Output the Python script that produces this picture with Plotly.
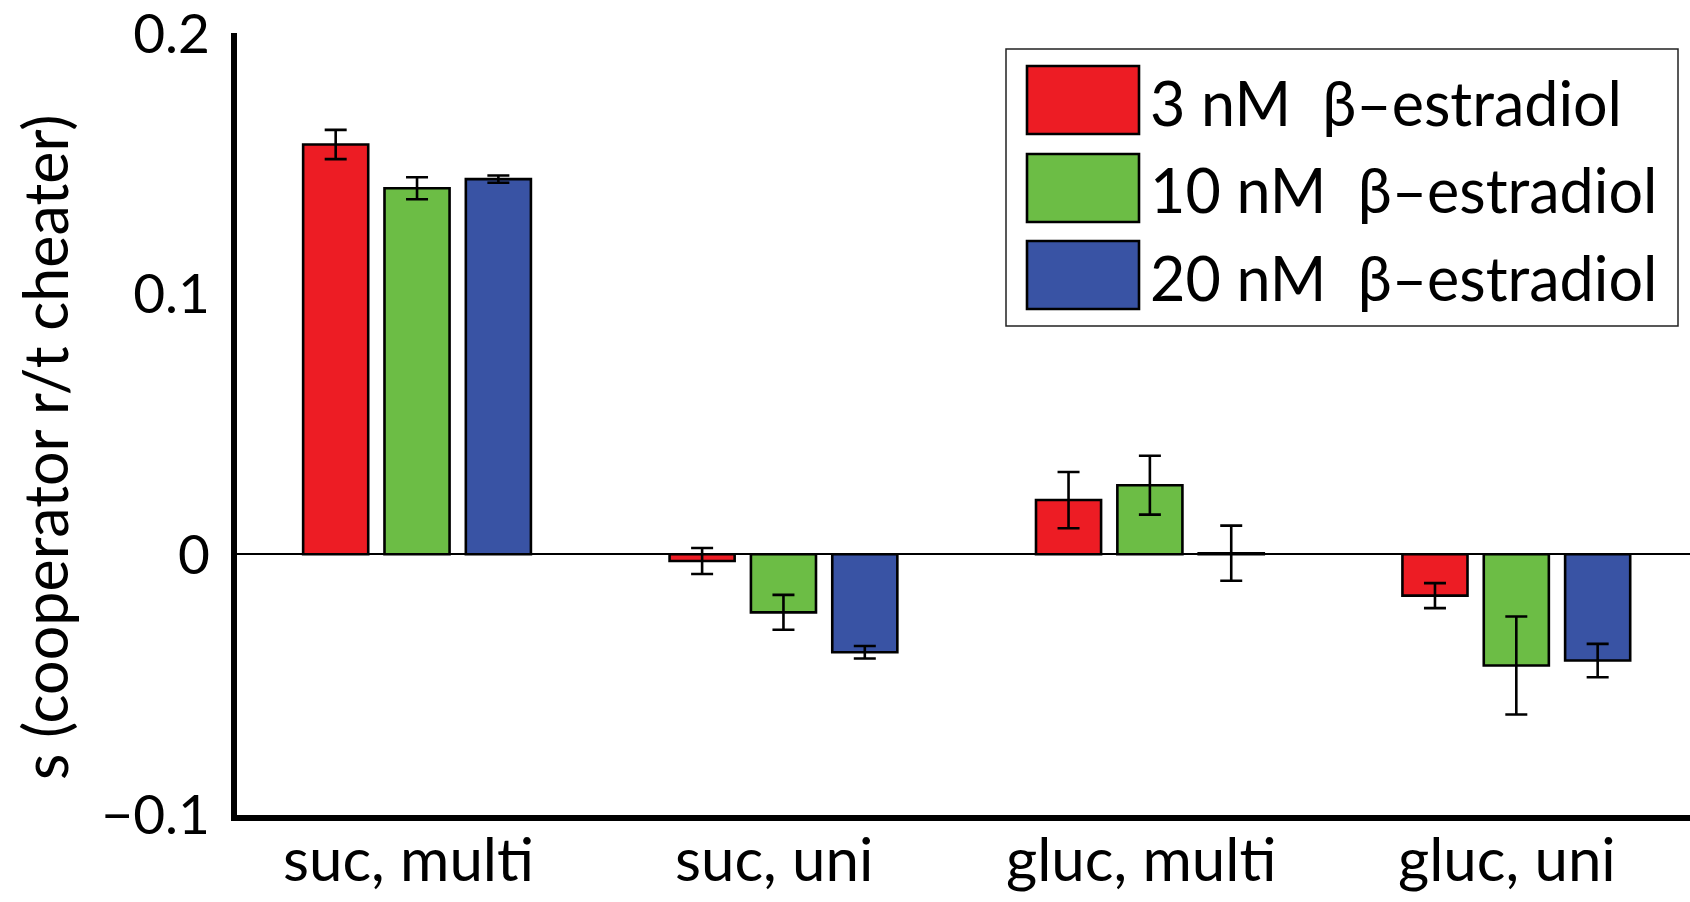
import plotly.graph_objects as go

categories = ["suc, multi", "suc, uni", "gluc, multi", "gluc, uni"]
series_names = ["3 nM  β–estradiol", "10 nM  β–estradiol", "20 nM  β–estradiol"]
s_3nM = [0.1573, -0.0026, 0.0208, -0.0159]
err_3nM = [0.0056, 0.0050, 0.0108, 0.0048]
s_10nM = [0.1405, -0.0223, 0.0265, -0.0427]
err_10nM = [0.0042, 0.0067, 0.0113, 0.0188]
s_20nM = [0.1440, -0.0376, 0.0004, -0.0408]
err_20nM = [0.0014, 0.0024, 0.0106, 0.0064]
colors = ["#ED1C24", "#6CBD45", "#3953A4"]
y_ticks = [-0.1, 0, 0.1, 0.2]
y_ticktext = ["\u22120.1", "0", "0.1", "0.2"]
y_title = "s (cooperator r/t cheater)"

FONT = "Lato"
W, H = 1690, 902
ML, MR, MT, MB = 237, 0, 33, 87
PW, PH = W - ML - MR, H - MT - MB


def px2x(px):
    return (px - ML) / PW


def px2y(py):
    return (H - MB - py) / PH


fig = go.Figure()
for name, vals, errs, col in zip(series_names, [s_3nM, s_10nM, s_20nM],
                                 [err_3nM, err_10nM, err_20nM], colors):
    fig.add_trace(go.Bar(
        x=categories, y=vals, name=name,
        marker=dict(color=col, line=dict(color="black", width=2.6)),
        error_y=dict(type="data", array=errs, visible=True, color="black",
                     thickness=2.6, width=11),
        showlegend=False,
    ))

# x category labels
for c in categories:
    fig.add_annotation(xref="x", yref="paper", x=c, y=px2y(858), xshift=-9,
                       text=c, showarrow=False, xanchor="center", yanchor="middle",
                       font=dict(family=FONT, size=60, color="black"))

# manual legend (large swatches)
fig.add_shape(type="rect", xref="paper", yref="paper",
              x0=px2x(1006), x1=px2x(1678), y0=px2y(326), y1=px2y(49),
              line=dict(color="#222", width=1.5), fillcolor="white", layer="above")
sw_tops = [66, 154, 241]
for i, (name, col) in enumerate(zip(series_names, colors)):
    t = sw_tops[i]
    fig.add_shape(type="rect", xref="paper", yref="paper",
                  x0=px2x(1027), x1=px2x(1139), y0=px2y(t + 68), y1=px2y(t),
                  line=dict(color="black", width=2.6), fillcolor=col, layer="above")
    fig.add_annotation(xref="paper", yref="paper", x=px2x(1148), y=px2y(t + 36),
                       text=name.replace("  ", "&nbsp; "), showarrow=False,
                       xanchor="left", yanchor="middle",
                       font=dict(family=FONT, size=61, color="black"))

fig.add_annotation(xref="paper", yref="paper", x=px2x(44), y=px2y(447),
                   text=y_title, textangle=-90, showarrow=False,
                   xanchor="center", yanchor="middle",
                   font=dict(family=FONT, size=61, color="black"))

fig.update_layout(
    width=W, height=H,
    margin=dict(l=ML, r=MR, t=MT, b=MB, pad=0),
    plot_bgcolor="white", paper_bgcolor="white",
    barmode="group", bargap=0.334, bargroupgap=0.2,
    font=dict(family=FONT, color="black"),
)
fig.update_xaxes(
    range=[-0.4913, 3.474], showgrid=False, zeroline=False,
    showline=True, linecolor="black", linewidth=6,
    ticks="", showticklabels=False,
)
fig.update_yaxes(
    range=[-0.1001, 0.2001], showgrid=False,
    zeroline=True, zerolinecolor="black", zerolinewidth=1.5,
    showline=True, linecolor="black", linewidth=6,
    tickvals=y_ticks, ticktext=y_ticktext, ticks="",
    tickfont=dict(family=FONT, size=55, color="black"),
    ticklabelstandoff=10, ticklabeloverflow="allow",
)

fig.write_html(
    "out.html",
    config={"displayModeBar": False},
    post_script="document.body.style.margin='0';document.body.style.overflow='hidden';",
)
